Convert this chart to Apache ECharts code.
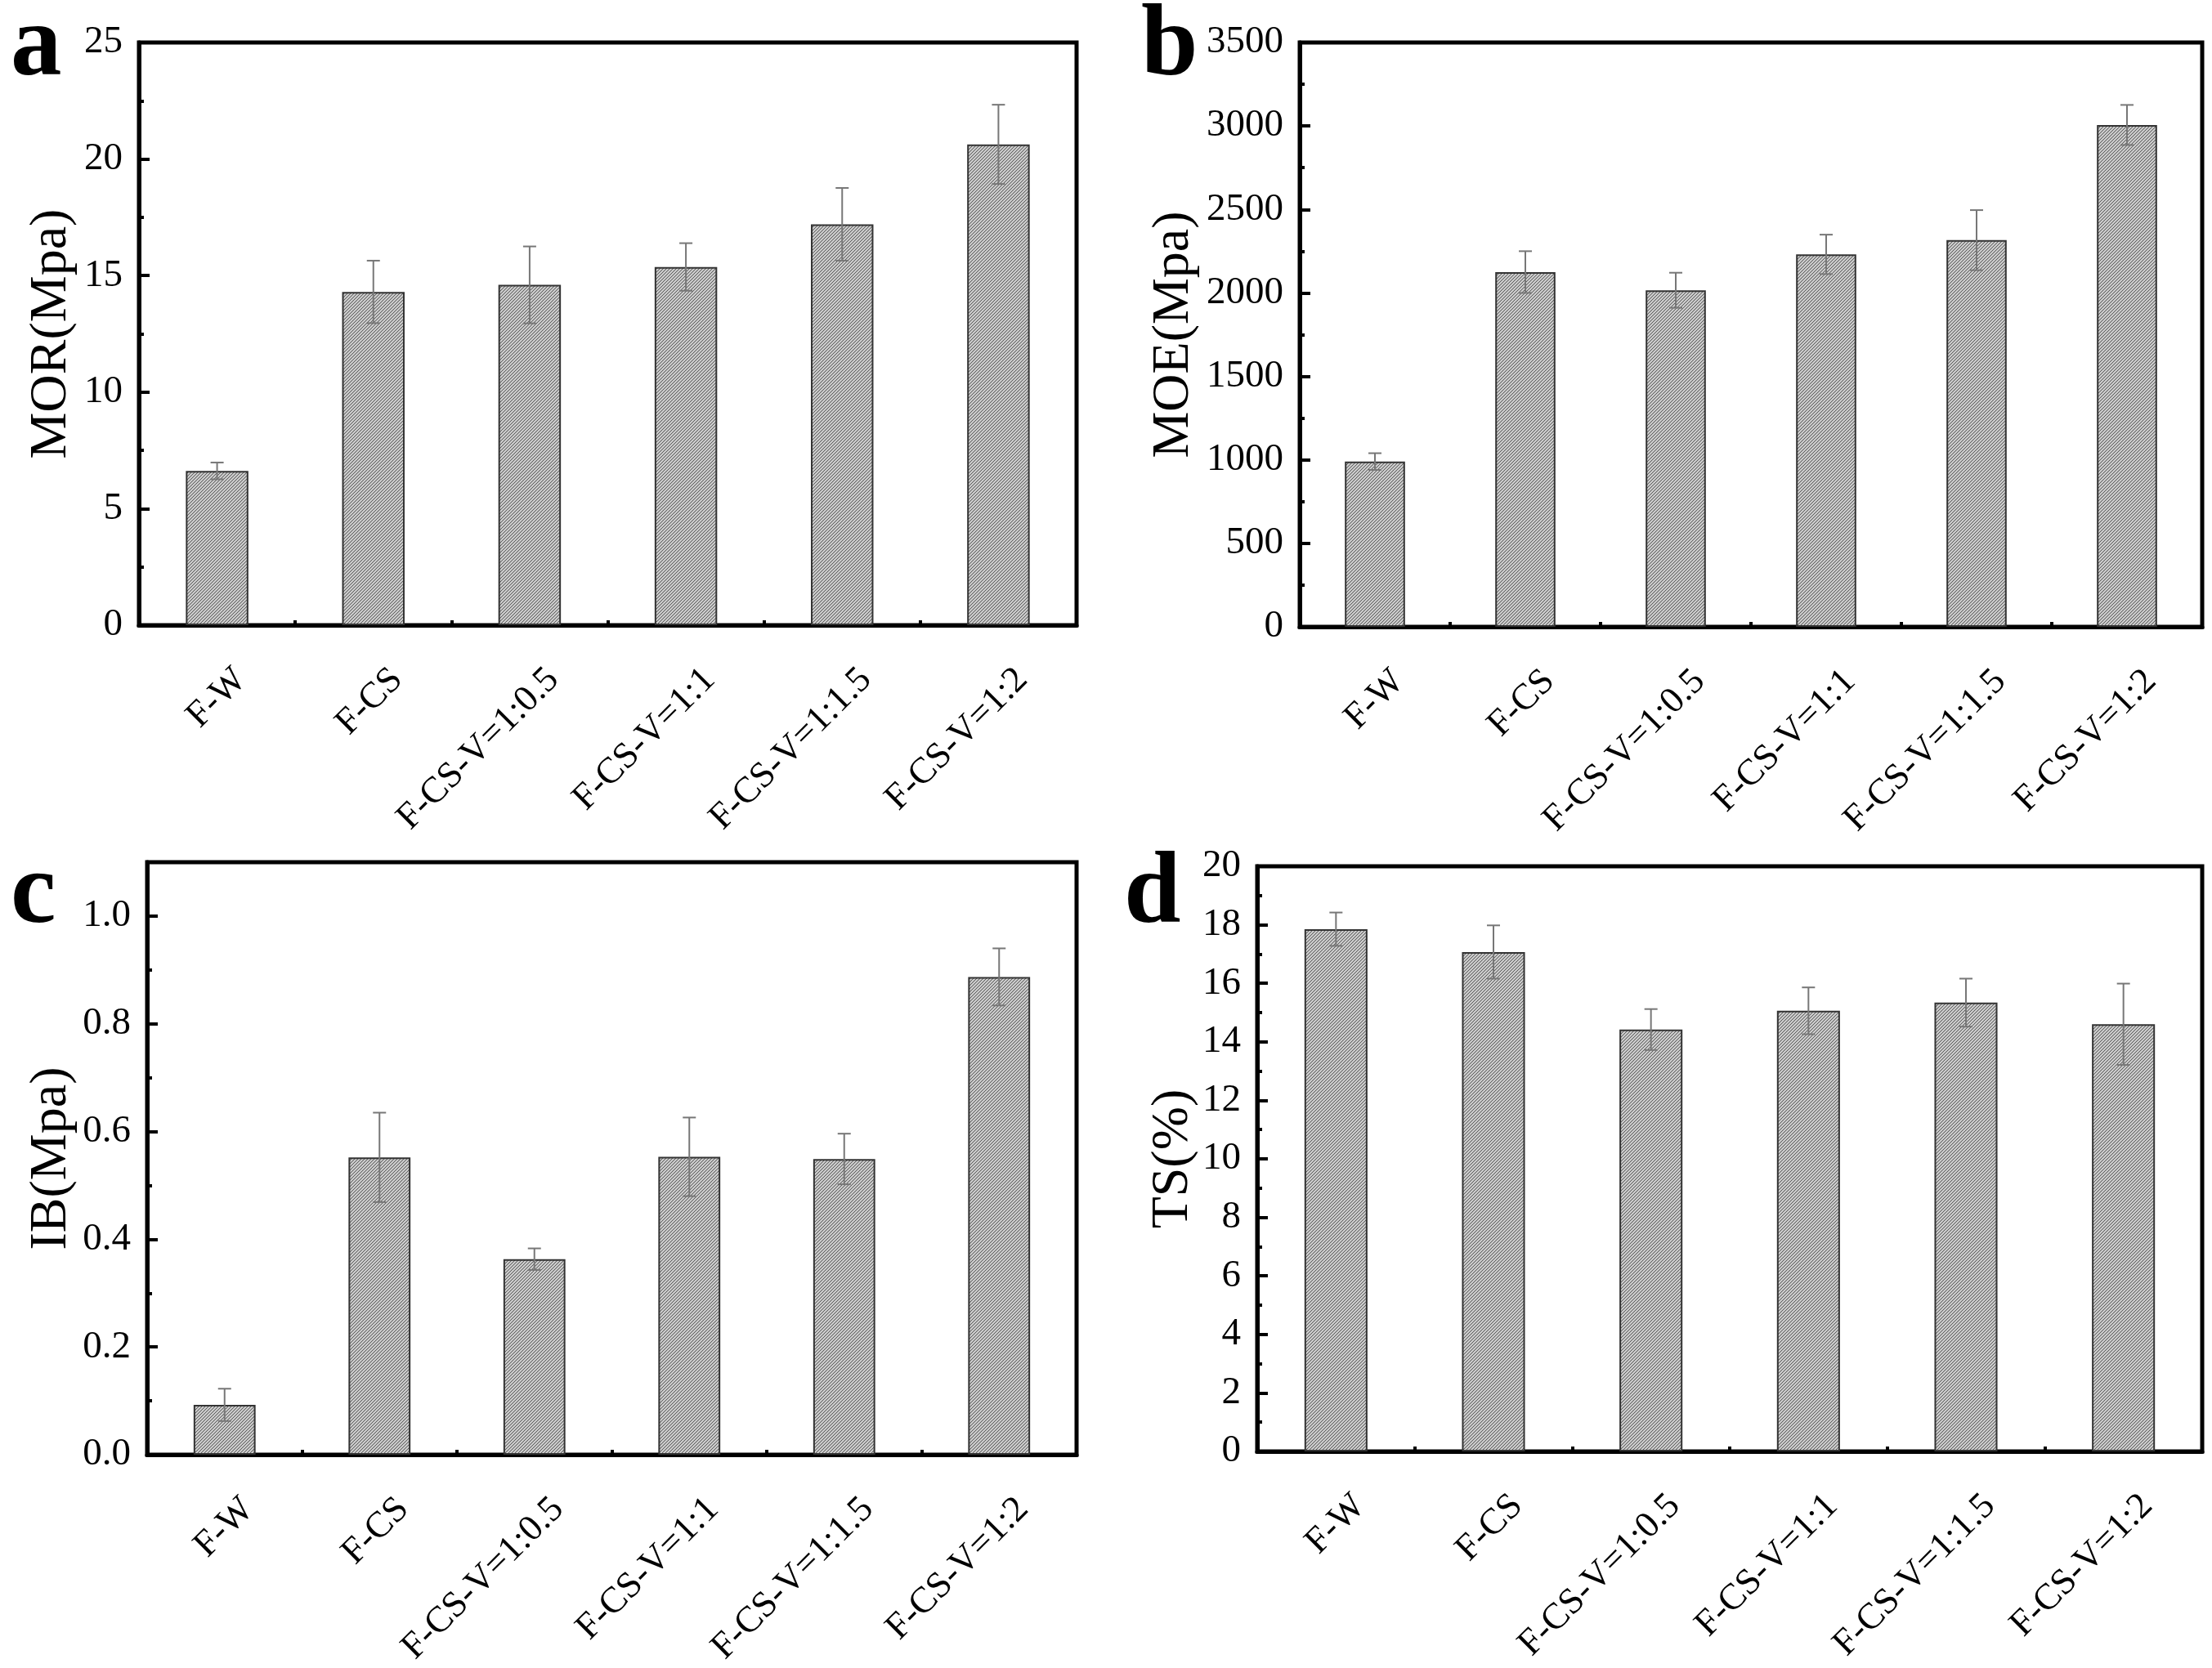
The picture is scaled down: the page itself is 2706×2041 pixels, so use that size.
<!DOCTYPE html>
<html>
<head>
<meta charset="utf-8">
<script src="https://cdn.jsdelivr.net/npm/echarts@6/dist/echarts.min.js"></script>
<style>
html,body{margin:0;padding:0;background:#fff;}
#main{width:2706px;height:2041px;}
</style>
</head>
<body>
<div id="main"></div>
<script>
// ---- data ----
const categories = ['F-W', 'F-CS', 'F-CS-V=1:0.5', 'F-CS-V=1:1', 'F-CS-V=1:1.5', 'F-CS-V=1:2'];
const morValues = [6.62, 14.3, 14.6, 15.37, 17.2, 20.63];
const morErrors = [0.36, 1.34, 1.65, 1.02, 1.56, 1.7];
const moeValues = [990, 2125, 2016, 2231, 2316, 3006];
const moeErrors = [50, 125, 105, 118, 180, 120];
const ibValues = [0.0925, 0.552, 0.363, 0.553, 0.549, 0.887];
const ibErrors = [0.03, 0.083, 0.02, 0.073, 0.047, 0.053];
const tsValues = [17.85, 17.07, 14.42, 15.06, 15.34, 14.6];
const tsErrors = [0.57, 0.91, 0.7, 0.8, 0.82, 1.39];
const panelLetters = ['a', 'b', 'c', 'd'];
const axisTitles = ['MOR(Mpa)', 'MOE(Mpa)', 'IB(Mpa)', 'TS(%)'];
const yMax = [25, 3500, 1.1, 20];
const yInterval = [5, 500, 0.2, 2];

// ---- styling ----
const FONT = '"Liberation Serif", "Times New Roman", serif';
const tile = document.createElement('canvas');
tile.width = 4; tile.height = 4;
(function () {
  const c = tile.getContext('2d');
  c.fillStyle = '#c9c9c9';
  c.fillRect(0, 0, 4, 4);
  c.strokeStyle = '#575757';
  c.lineWidth = 1.0;
  c.beginPath();
  c.moveTo(-1, 1); c.lineTo(1, -1);
  c.moveTo(0, 4); c.lineTo(4, 0);
  c.moveTo(3, 5); c.lineTo(5, 3);
  c.stroke();
})();
const hatch = { image: tile, repeat: 'repeat' };

const grids = [
  { left: 170, top: 52, right: 1389, bottom: 1276 },
  { left: 1590, top: 52, right: 12, bottom: 1274 },
  { left: 180, top: 1055, right: 1389, bottom: 261 },
  { left: 1538, top: 1060, right: 12, bottom: 265 }
];
const nameGaps = [75, 122, 85, 71];
const allValues = [morValues, moeValues, ibValues, tsValues];
const allErrors = [morErrors, moeErrors, ibErrors, tsErrors];

const option = {
  animation: false,
  backgroundColor: '#fff',
  grid: grids.map(g => Object.assign({ show: true, borderColor: '#000', borderWidth: 5, containLabel: false, outerBoundsMode: 'none' }, g)),
  xAxis: [],
  yAxis: [],
  series: [],
  graphic: []
};

for (let p = 0; p < 4; p++) {
  option.xAxis.push({
    type: 'category', gridIndex: p, data: categories,
    axisLine: { lineStyle: { color: '#000', width: 5 } },
    axisTick: { show: true, alignWithLabel: true, inside: true, length: 13, lineStyle: { color: '#000', width: 4 } },
    axisLabel: { interval: 0, rotate: 45, margin: 31, verticalAlign: 'top', lineHeight: 82, fontFamily: FONT, fontSize: 45, color: '#000' },
    splitLine: { show: false }
  });
  option.xAxis.push({
    type: 'category', gridIndex: p, data: categories, position: 'bottom',
    axisLine: { show: false },
    axisTick: { show: true, inside: true, length: 6, lineStyle: { color: '#000', width: 4 } },
    axisLabel: { show: false },
    splitLine: { show: false }
  });
  option.yAxis.push({
    type: 'value', gridIndex: p, min: 0, max: yMax[p], interval: yInterval[p],
    name: axisTitles[p], nameLocation: 'middle', nameRotate: 90, nameGap: nameGaps[p],
    nameTextStyle: { fontFamily: FONT, fontSize: 64, color: '#000' },
    axisLine: { show: true, lineStyle: { color: '#000', width: 5 } },
    axisTick: { show: true, inside: true, length: 13, lineStyle: { color: '#000', width: 4 } },
    minorTick: { show: true, splitNumber: 2, length: 6, lineStyle: { color: '#000', width: 4 } },
    axisLabel: {
      margin: 20, fontFamily: FONT, fontSize: 47, color: '#000', showMaxLabel: p !== 2,
      formatter: p === 2 ? (v => v.toFixed(1)) : (v => String(v))
    },
    splitLine: { show: false }
  });
  const vals = allValues[p], errs = allErrors[p];
  option.series.push({
    type: 'bar', xAxisIndex: 2 * p, yAxisIndex: p, data: vals, barWidth: '40%',
    itemStyle: { color: hatch, borderColor: '#333', borderWidth: 2 },
    z: 2
  });
  option.series.push({
    type: 'custom', xAxisIndex: 2 * p, yAxisIndex: p, z: 5,
    data: vals.map((v, i) => [i, v, errs[i]]),
    renderItem: function (params, api) {
      const i = api.value(0), v = api.value(1), e = api.value(2);
      const hi = api.coord([i, v + e]);
      const lo = api.coord([i, v - e]);
      const cw = 8;
      const st = { stroke: '#777', lineWidth: 2 };
      return {
        type: 'group', children: [
          { type: 'line', shape: { x1: hi[0], y1: hi[1], x2: lo[0], y2: lo[1] }, style: st },
          { type: 'line', shape: { x1: hi[0] - cw, y1: hi[1], x2: hi[0] + cw, y2: hi[1] }, style: st },
          { type: 'line', shape: { x1: lo[0] - cw, y1: lo[1], x2: lo[0] + cw, y2: lo[1] }, style: st }
        ]
      };
    }
  });
}

const letterPos = [[13, 58], [1396, 58], [13, 1095], [1375, 1095]];
for (let p = 0; p < 4; p++) {
  option.graphic.push({
    type: 'text', left: letterPos[p][0], top: letterPos[p][1] - 62,
    style: { text: panelLetters[p], font: 'bold 125px ' + FONT, fill: '#000' }
  });
}

const chart = echarts.init(document.getElementById('main'));
chart.setOption(option);
</script>
</body>
</html>
